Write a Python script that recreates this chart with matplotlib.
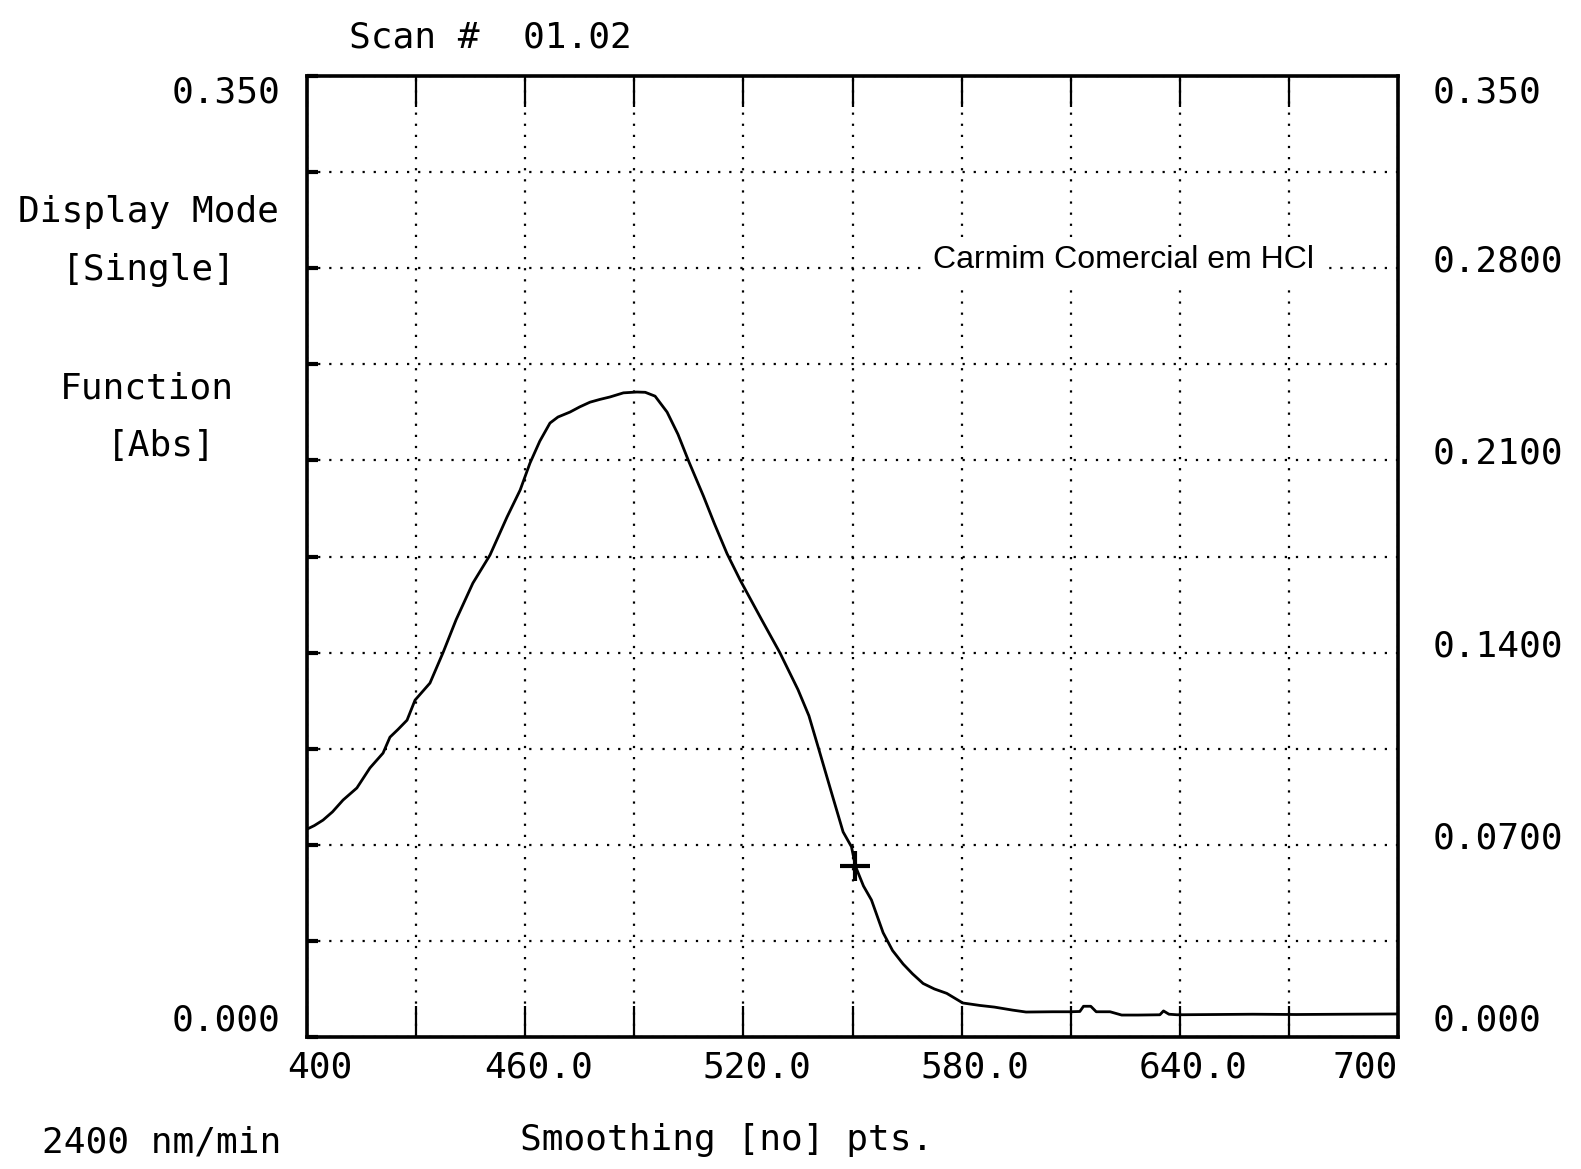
import matplotlib
matplotlib.use("Agg")
import matplotlib.pyplot as plt
import matplotlib.transforms as mtransforms

#--------------Data----------------------------------------------------
wavelength = [400.0, 402.0, 404.4, 407.0, 409.9, 413.7, 417.3, 420.9, 422.8, 425.0,
              427.5, 429.7, 433.8, 437.4, 441.0, 445.6, 450.3, 455.0, 458.6, 461.3,
              464.0, 466.8, 469.0, 472.3, 475.0, 477.8, 480.5, 483.3, 487.0, 490.7,
              493.0, 495.7, 499.0, 502.0, 505.0, 509.0, 512.0, 515.5, 519.1, 525.0,
              530.0, 535.0, 538.0, 540.9, 544.1, 547.4, 549.7, 550.8, 553.0, 555.2,
              558.4, 561.0, 563.9, 566.5, 569.4, 572.5, 575.9, 580.3, 585.0, 589.0,
              594.0, 597.7, 605.0, 609.8, 612.5, 613.5, 615.5, 617.0, 620.8, 624.0,
              628.5, 634.5, 635.5, 637.0, 639.3, 650.0, 660.0, 672.0, 685.0, 700.0]
absorbance = [0.0757, 0.0770, 0.0790, 0.0820, 0.0863, 0.0907, 0.0980, 0.1034, 0.1092, 0.1120,
              0.1154, 0.1227, 0.1289, 0.1400, 0.1520, 0.1653, 0.1755, 0.1894, 0.1992, 0.2090,
              0.2170, 0.2236, 0.2258, 0.2276, 0.2295, 0.2312, 0.2322, 0.2331, 0.2346, 0.2349,
              0.2348, 0.2334, 0.2276, 0.2195, 0.2095, 0.1970, 0.1870, 0.1760, 0.1664, 0.1520,
              0.1400, 0.1265, 0.1170, 0.1040, 0.0895, 0.0747, 0.0693, 0.0622, 0.0550, 0.0499,
              0.0380, 0.0315, 0.0266, 0.0230, 0.0195, 0.0175, 0.0159, 0.0124, 0.0115, 0.0109,
              0.0098, 0.0091, 0.0092, 0.0092, 0.0093, 0.0112, 0.0112, 0.0092, 0.0092, 0.0080,
              0.0080, 0.0081, 0.0095, 0.0083, 0.0081, 0.0082, 0.0083, 0.0082, 0.0083, 0.0084]

cursor_x = [550.8]          # the "+" cursor mark on the curve
cursor_y = [0.0622]

x_ticks = [400, 430, 460, 490, 520, 550, 580, 610, 640, 670, 700]
x_labels = ['400', '', '460.0', '', '520.0', '', '580.0', '', '640.0', '', '700']
y_ticks = [0.0, 0.035, 0.07, 0.105, 0.14, 0.175, 0.21, 0.245, 0.28, 0.315, 0.35]
y_labels_left = ['0.000', '', '', '', '', '', '', '', '', '', '0.350']
y_ticks_right = [0.0, 0.07, 0.14, 0.21, 0.28, 0.35]
y_labels_right = ['0.000', '0.0700', '0.1400', '0.2100', '0.2800', '0.350']

sample_name = 'Carmim Comercial em HCl'

#--------------Figure--------------------------------------------------
mono = 'DejaVu Sans Mono'
fs = 26
plt.rcParams['font.family'] = [mono]

fig = plt.figure(figsize=(15.81, 11.69), dpi=100)
ax = fig.add_axes([0.1942, 0.1129, 0.6901, 0.8221])

ax.plot(wavelength, absorbance, color='black', lw=2.0)
ax.plot(cursor_x, cursor_y, marker='+', ms=22, mew=3, color='black', ls='none')

ax.set_xlim(400, 700)
ax.set_ylim(0, 0.35)

ax.set_xticks(x_ticks)
ax.set_xticklabels(x_labels, fontsize=fs)
ax.set_yticks(y_ticks)
ax.set_yticklabels(y_labels_left, fontsize=fs)

ax.grid(True, color='black', lw=1.6, ls=(0, (1, 4)))
ax.tick_params(axis='x', direction='in', length=22, width=1.6, top=True, bottom=True, pad=10)
ax.tick_params(axis='y', direction='in', length=8, width=3, left=True, right=True, pad=19)
for sp in ax.spines.values():
    sp.set_linewidth(2.6)

# shift the x labels a bit to the right, like the printer did
shift = mtransforms.ScaledTranslation(13 / 100, 0, fig.dpi_scale_trans)
xl = ax.get_xticklabels()
for lab in xl[:-1]:
    lab.set_transform(lab.get_transform() + shift)
xl[-1].set_ha('right')

yl = ax.get_yticklabels()
yl[0].set_va('bottom')
yl[-1].set_va('top')

# right hand labels
ax2 = ax.twinx()
ax2.set_ylim(0, 0.35)
ax2.set_yticks(y_ticks_right)
ax2.set_yticklabels(y_labels_right, fontsize=fs)
ax2.tick_params(axis='y', length=0, pad=25)
for sp in ax2.spines.values():
    sp.set_visible(False)
yr = ax2.get_yticklabels()
yr[0].set_va('bottom')
yr[-1].set_va('top')
for lab in yr[1:-1]:
    lab.set_transform(lab.get_transform() + mtransforms.ScaledTranslation(0, 10 / 100, fig.dpi_scale_trans))

# sample name written over the grid line
ax.text(572.1, 0.283, sample_name, family=['Liberation Sans', 'DejaVu Sans'], fontsize=23,
        va='center', ha='left', zorder=5,
        bbox=dict(facecolor='white', edgecolor='none', pad=6))

#--------------Printer header / side notes-----------------------------
fig.text(490 / 1581, 1 - 38 / 1169, 'Scan #  01.02', fontsize=fs, ha='center', va='center')
fig.text(148 / 1581, 1 - 212 / 1169, 'Display Mode', fontsize=fs, ha='center', va='center')
fig.text(149 / 1581, 1 - 270 / 1169, '[Single]', fontsize=fs, ha='center', va='center')
fig.text(147 / 1581, 1 - 388 / 1169, 'Function', fontsize=fs, ha='center', va='center')
fig.text(161 / 1581, 1 - 446 / 1169, '[Abs]', fontsize=fs, ha='center', va='center')
fig.text(162 / 1581, 1 - 1143 / 1169, '2400 nm/min', fontsize=fs, ha='center', va='center')
fig.text(727 / 1581, 1 - 1140 / 1169, 'Smoothing [no] pts.', fontsize=fs, ha='center', va='center')

fig.savefig('out.png', dpi=100, facecolor='white')
